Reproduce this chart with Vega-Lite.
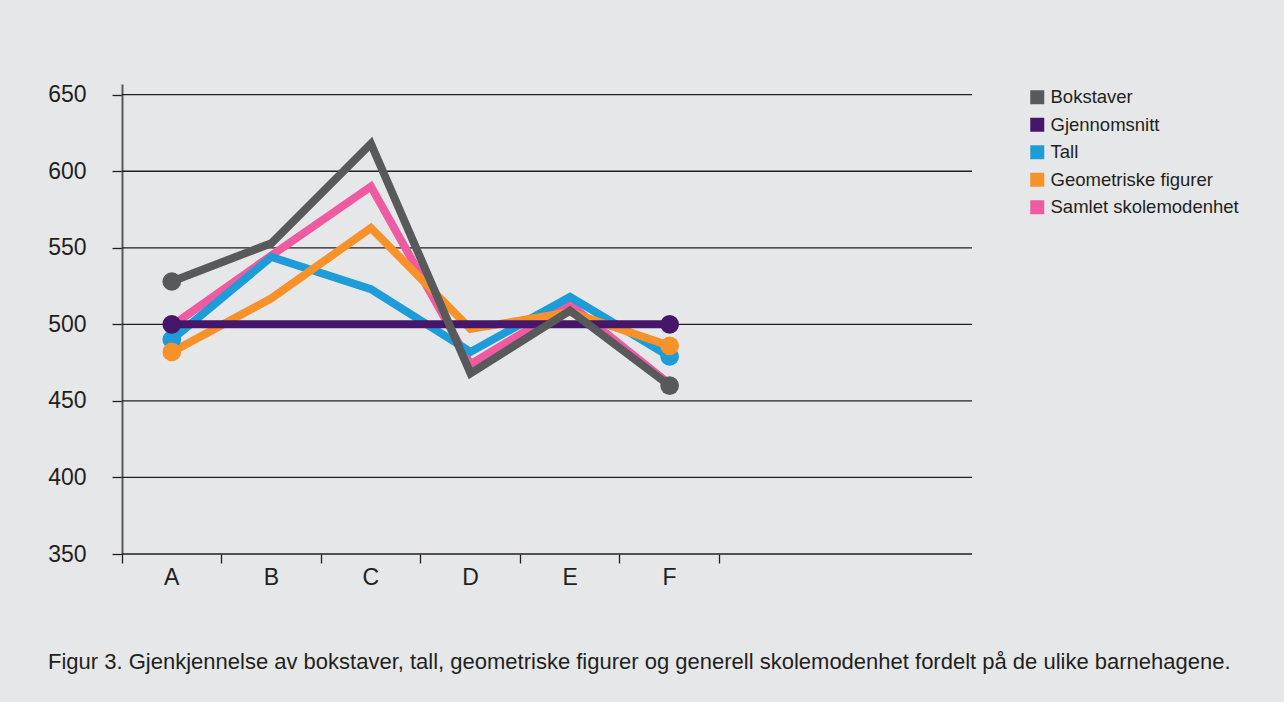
{
  "$schema": "https://vega.github.io/schema/vega-lite/v6.json",
  "width": 850,
  "height": 470,
  "autosize": {"type": "none"},
  "padding": {"left": 122, "top": 84, "right": 312, "bottom": 148},
  "background": "#e6e7e9",
  "config": {"view": {"stroke": null}, "font": "Liberation Sans"},
  "title": {
    "text": "Figur 3. Gjenkjennelse av bokstaver, tall, geometriske figurer og generell skolemodenhet fordelt på de ulike barnehagene.",
    "orient": "bottom",
    "anchor": "start",
    "frame": "group",
    "dx": -74,
    "offset": 63,
    "fontSize": 22,
    "fontWeight": "normal",
    "color": "#231f20"
  },
  "datasets": {
    "grid": [{"g": 350}, {"g": 400}, {"g": 450}, {"g": 500}, {"g": 550}, {"g": 600}, {"g": 650}],
    "scores": [
      {"x": "A", "serie": "Samlet skolemodenhet", "v": 499},
      {"x": "B", "serie": "Samlet skolemodenhet", "v": 545},
      {"x": "C", "serie": "Samlet skolemodenhet", "v": 590},
      {"x": "D", "serie": "Samlet skolemodenhet", "v": 474},
      {"x": "E", "serie": "Samlet skolemodenhet", "v": 513},
      {"x": "F", "serie": "Samlet skolemodenhet", "v": 461},
      {"x": "A", "serie": "Tall", "v": 490},
      {"x": "B", "serie": "Tall", "v": 544},
      {"x": "C", "serie": "Tall", "v": 523},
      {"x": "D", "serie": "Tall", "v": 482},
      {"x": "E", "serie": "Tall", "v": 518},
      {"x": "F", "serie": "Tall", "v": 479},
      {"x": "A", "serie": "Geometriske figurer", "v": 482},
      {"x": "B", "serie": "Geometriske figurer", "v": 517},
      {"x": "C", "serie": "Geometriske figurer", "v": 563},
      {"x": "D", "serie": "Geometriske figurer", "v": 497},
      {"x": "E", "serie": "Geometriske figurer", "v": 508},
      {"x": "F", "serie": "Geometriske figurer", "v": 486},
      {"x": "A", "serie": "Gjennomsnitt", "v": 500},
      {"x": "B", "serie": "Gjennomsnitt", "v": 500},
      {"x": "C", "serie": "Gjennomsnitt", "v": 500},
      {"x": "D", "serie": "Gjennomsnitt", "v": 500},
      {"x": "E", "serie": "Gjennomsnitt", "v": 500},
      {"x": "F", "serie": "Gjennomsnitt", "v": 500},
      {"x": "A", "serie": "Bokstaver", "v": 528},
      {"x": "B", "serie": "Bokstaver", "v": 553},
      {"x": "C", "serie": "Bokstaver", "v": 618},
      {"x": "D", "serie": "Bokstaver", "v": 468},
      {"x": "E", "serie": "Bokstaver", "v": 509},
      {"x": "F", "serie": "Bokstaver", "v": 460}
    ]
  },
  "layer": [
    {
      "data": {"name": "grid"},
      "mark": {"type": "rule", "color": "#231f20", "strokeWidth": 1.3},
      "encoding": {
        "y": {"field": "g", "type": "quantitative"}
      }
    },
    {
      "data": {"name": "scores"},
      "encoding": {
        "x": {
          "field": "x",
          "type": "nominal",
          "scale": {"type": "band", "domain": ["A", "B", "C", "D", "E", "F", "G"], "range": [0, 697], "paddingInner": 0, "paddingOuter": 0},
          "axis": {
            "title": null,
            "bandPosition": 0,
            "labelExpr": "datum.value === 'G' ? '' : datum.value",
            "domain": false,
            "grid": false,
            "tickSize": 9,
            "tickColor": "#231f20",
            "tickWidth": 1.3,
            "labelAngle": 0,
            "labelFontSize": 23,
            "labelColor": "#231f20",
            "labelPadding": 3
          }
        },
        "y": {
          "field": "v",
          "type": "quantitative",
          "scale": {"domain": [350, 657], "nice": false, "zero": false},
          "axis": {
            "title": null,
            "values": [350, 400, 450, 500, 550, 600, 650],
            "grid": false,
            "domainColor": "#58595b",
            "domainWidth": 2,
            "tickSize": 10,
            "tickColor": "#231f20",
            "tickWidth": 1.3,
            "labelFontSize": 23,
            "labelColor": "#231f20",
            "labelPadding": 26
          }
        },
        "color": {
          "field": "serie",
          "type": "nominal",
          "sort": null,
          "scale": {
            "domain": ["Bokstaver", "Gjennomsnitt", "Tall", "Geometriske figurer", "Samlet skolemodenhet"],
            "range": ["#58595b", "#46166b", "#1e9cd7", "#f7922a", "#ef5ba1"]
          },
          "legend": {
            "title": null,
            "orient": "none",
            "legendX": 906,
            "legendY": 4,
            "symbolType": "square",
            "symbolSize": 196,
            "symbolStrokeWidth": 0,
            "labelFontSize": 18.5,
            "labelColor": "#231f20",
            "labelOffset": 4,
            "labelLimit": 0,
            "rowPadding": 8.5
          }
        }
      },
      "layer": [
        {
          "mark": {"type": "line", "strokeWidth": 8, "strokeJoin": "miter", "strokeCap": "butt"}
        },
        {
          "transform": [{"filter": "(datum.x === 'A' || datum.x === 'F') && datum.serie !== 'Samlet skolemodenhet'"}],
          "mark": {"type": "point", "filled": true, "size": 350, "opacity": 1}
        }
      ]
    }
  ]
}
